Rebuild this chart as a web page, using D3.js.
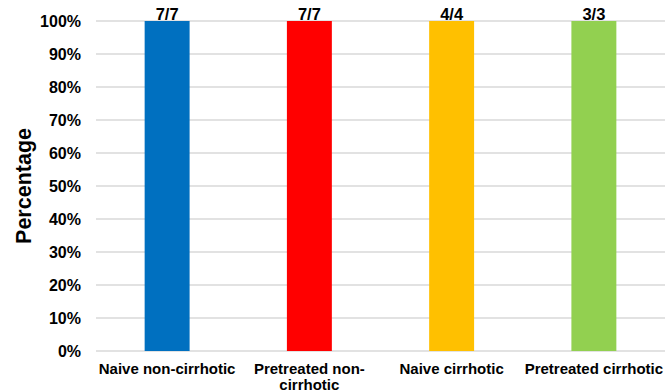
<!DOCTYPE html>
<html>
<head>
<meta charset="utf-8">
<script src="https://cdn.jsdelivr.net/npm/d3@7"></script>
<style>
  html, body { margin: 0; padding: 0; background: #fff; }
  svg { display: block; font-family: "Liberation Sans", Arial, sans-serif; }
</style>
</head>
<body>
<svg id="chart" width="669" height="390"></svg>
<script>
// Response rate per patient group
const categories = ["Naive non-cirrhotic", "Pretreated non-cirrhotic", "Naive cirrhotic", "Pretreated cirrhotic"];
const categoryLines = [["Naive non-cirrhotic"], ["Pretreated non-", "cirrhotic"], ["Naive cirrhotic"], ["Pretreated cirrhotic"]];
const percentages = [100, 100, 100, 100];
const countLabels = ["7/7", "7/7", "4/4", "3/3"];
const barColors = ["#0070C0", "#FF0000", "#FFC000", "#92D050"];
const yTicks = [0, 10, 20, 30, 40, 50, 60, 70, 80, 90, 100];

const svg = d3.select("#chart");
const margin = { top: 21, right: 4, bottom: 39, left: 96 };
const width = 669 - margin.left - margin.right;
const height = 390 - margin.top - margin.bottom;

const g = svg.append("g").attr("transform", `translate(${margin.left},${margin.top})`);

const x = d3.scaleBand().domain(categories).range([0, width]).paddingInner(0.684).paddingOuter(0.342);
const y = d3.scaleLinear().domain([0, 100]).range([height, 0]);

// horizontal gridlines
g.selectAll("line.grid").data(yTicks).join("line")
  .attr("class", "grid")
  .attr("x1", 0).attr("x2", width)
  .attr("y1", d => y(d)).attr("y2", d => y(d))
  .attr("stroke", "#d9d9d9").attr("stroke-width", 1.5);

// y axis labels
const yAxis = d3.axisLeft(y).tickValues(yTicks).tickFormat(d => d + "%").tickSize(0).tickPadding(15);
const ya = g.append("g").call(yAxis);
ya.select(".domain").remove();
ya.selectAll("text").attr("font-size", 16).attr("font-weight", "bold").attr("fill", "#000")
  .attr("font-family", "'Liberation Sans', Arial, sans-serif");

// bars
g.selectAll("rect.bar").data(categories).join("rect")
  .attr("class", "bar")
  .attr("x", d => x(d))
  .attr("width", x.bandwidth())
  .attr("y", (d, i) => y(percentages[i]))
  .attr("height", (d, i) => height - y(percentages[i]))
  .attr("fill", (d, i) => barColors[i]);

// count labels above bars
g.selectAll("text.count").data(categories).join("text")
  .attr("class", "count")
  .attr("x", d => x(d) + x.bandwidth() / 2)
  .attr("y", (d, i) => y(percentages[i]) - 1)
  .attr("text-anchor", "middle")
  .attr("font-size", 16.5).attr("font-weight", "bold")
  .text((d, i) => countLabels[i]);

// category labels
const xl = g.selectAll("text.cat").data(categories).join("text")
  .attr("class", "cat")
  .attr("x", d => x(d) + x.bandwidth() / 2)
  .attr("y", height + 22.5)
  .attr("text-anchor", "middle")
  .attr("font-size", 15).attr("font-weight", "bold");
xl.each(function(d, i) {
  const t = d3.select(this);
  categoryLines[i].forEach((line, j) => {
    t.append("tspan").attr("x", x(d) + x.bandwidth() / 2).attr("dy", j === 0 ? 0 : 16.5).text(line);
  });
});

// y axis title
svg.append("text")
  .attr("transform", `translate(31,${margin.top + height / 2}) rotate(-90)`)
  .attr("text-anchor", "middle")
  .attr("font-size", 21.5).attr("font-weight", "bold")
  .text("Percentage");
</script>
</body>
</html>
